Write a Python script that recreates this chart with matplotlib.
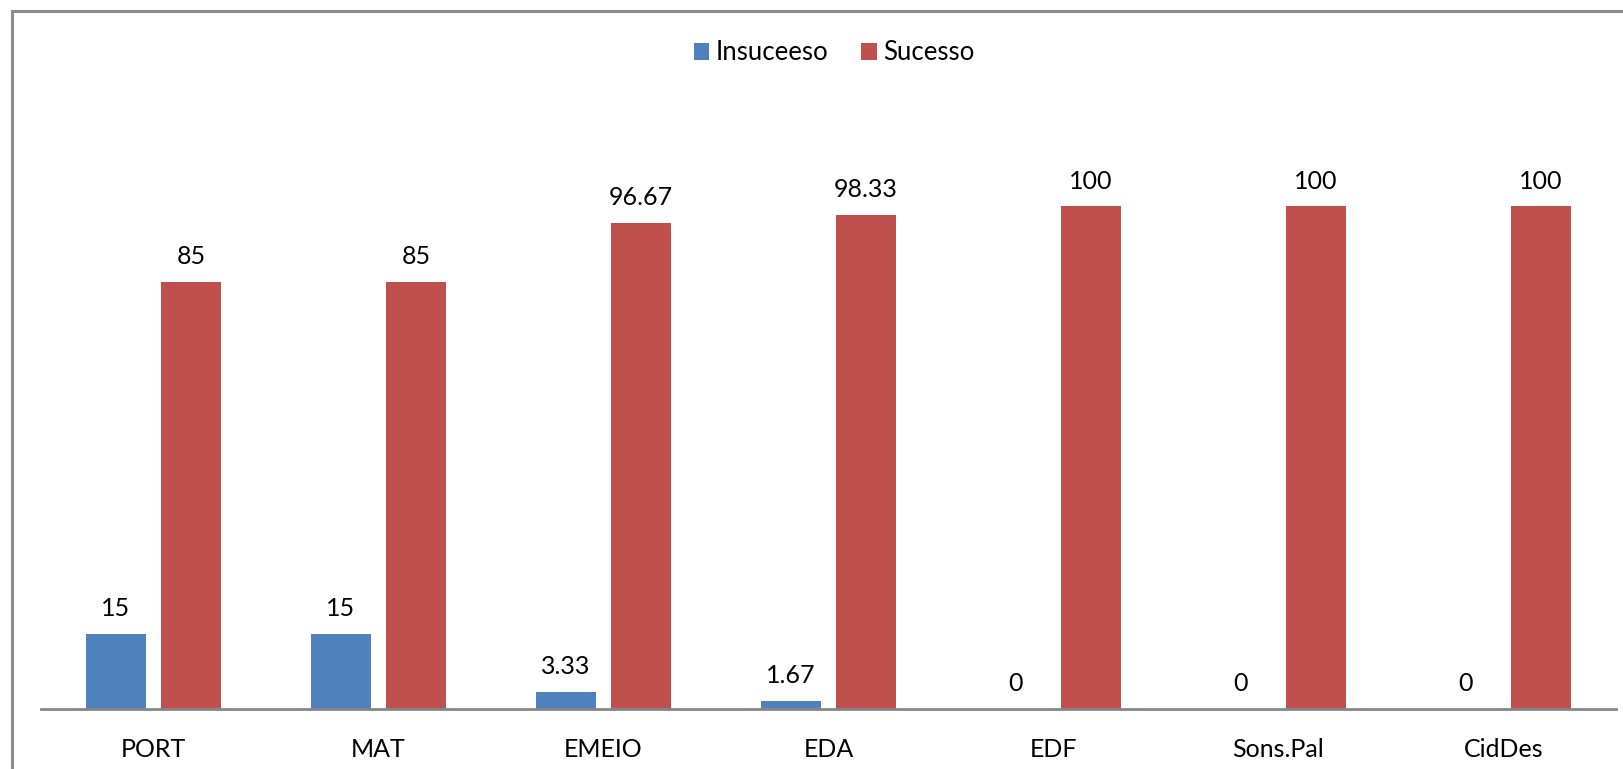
import numpy as np
import matplotlib.pyplot as plt
from matplotlib.patches import Rectangle

categories = ['PORT', 'MAT', 'EMEIO', 'EDA', 'EDF', 'Sons.Pal', 'CidDes']
insucesso = [15, 15, 3.33, 1.67, 0, 0, 0]
sucesso = [85, 85, 96.67, 98.33, 100, 100, 100]
series_names = ['Insuceeso', 'Sucesso']

plt.rcParams['font.family'] = ['Lato', 'DejaVu Sans']

W, H = 1623, 769
fig = plt.figure(figsize=(W / 100, H / 100), dpi=100)

# outer chart frame (cut off at right and bottom like the screenshot)
fig.patches.append(Rectangle((12 / W, -0.1), 1.2, 1 - 11 / H + 0.1,
                             transform=fig.transFigure, fill=False,
                             edgecolor='#8c8c8c', linewidth=2.2))

ax = fig.add_axes([41 / W, (H - 709) / H, (1616 - 41) / W, 603 / H])

x = np.arange(len(categories))
w = 0.267
off = 0.167
fs = 18
b1 = ax.bar(x - off, insucesso, w, color='#4F81BD', label=series_names[0])
b2 = ax.bar(x + off, sucesso, w, color='#C0504D', label=series_names[1])

for bars, vals in [(b1, insucesso), (b2, sucesso)]:
    for rect, v in zip(bars, vals):
        ax.annotate(f'{v:g}', (rect.get_x() + rect.get_width() / 2, v),
                    xytext=(0, 10), textcoords='offset points',
                    ha='center', va='bottom', fontsize=fs)

ax.set_xlim(-0.5, len(categories) - 0.5)
ax.set_ylim(0, 120)
ax.set_xticks(x)
ax.set_xticklabels(categories, fontsize=fs)
ax.tick_params(axis='x', length=0, pad=21)
ax.set_yticks([])
for s in ['top', 'right', 'left']:
    ax.spines[s].set_visible(False)
ax.spines['bottom'].set_color('#868686')
ax.spines['bottom'].set_linewidth(2)

fig.legend(loc='center', bbox_to_anchor=(834 / W, 1 - 53 / H), ncol=2,
           frameon=False, fontsize=18.5, handlelength=0.6, handleheight=0.6,
           handletextpad=0.25, columnspacing=1.3)

fig.savefig('out.png', dpi=100)
